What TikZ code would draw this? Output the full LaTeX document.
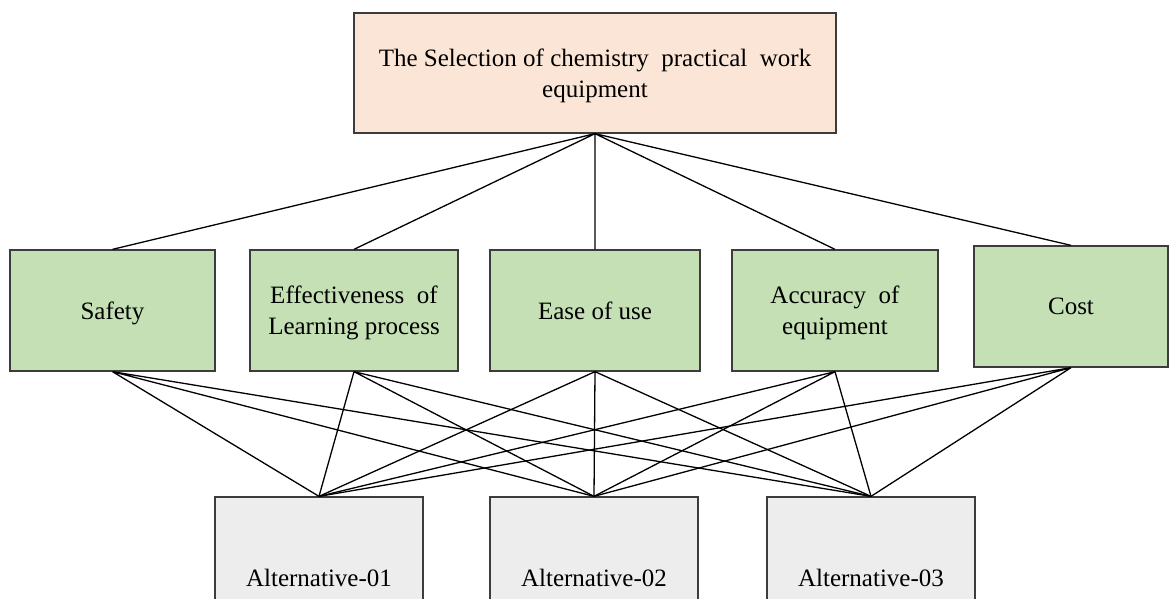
\documentclass[tikz,border=0pt]{standalone}
\usepackage{fontspec}
\setmainfont{Liberation Serif}
\definecolor{goalpeach}{RGB}{251, 229, 214}
\definecolor{critgreen}{RGB}{197, 224, 180}
\definecolor{altgrey}{RGB}{237, 237, 237}
\definecolor{edgegrey}{RGB}{60, 60, 60}
\usepackage{tikz}
\usetikzlibrary{positioning}

\begin{document}
\begin{tikzpicture}[x=1pt, y=-1pt,
    boxbase/.style={draw=edgegrey, line width=1.3pt, align=center, inner sep=4pt,
      text depth=0pt, font={\fontsize{25}{31}\selectfont}},
    goalbox/.style={boxbase, fill=goalpeach, minimum width=482pt, minimum height=120pt},
    critbox/.style={boxbase, fill=critgreen, minimum height=121pt},
    altbox/.style={boxbase, fill=altgrey, minimum width=208pt, minimum height=162pt},
    link/.style={draw=black, line width=1.3pt}]
  \clip (0,0) rectangle (1170,598);

  % Goal
  \node[goalbox] (goal) at (595, 73) {The Selection of chemistry\ \ practical\ \ work\\equipment};

  % Criteria
  \node[critbox, minimum width=205pt] (safety) at (112.5, 310.5) {Safety};
  \node[critbox, minimum width=208pt] (effect) at (354, 310.5) {Effectiveness\ \ of\\Learning process};
  \node[critbox, minimum width=210pt] (ease) at (595, 310.5) {Ease of use};
  \node[critbox, minimum width=206pt] (accuracy) at (835, 310.5) {Accuracy\ \ of\\equipment};
  \node[critbox, minimum width=194pt] (cost) at (1071, 306.5) {Cost};

  % Alternatives
  \node[altbox] (alt1) at (319, 578) {Alternative-01};
  \node[altbox] (alt2) at (594, 578) {Alternative-02};
  \node[altbox] (alt3) at (871, 578) {Alternative-03};

  % Goal to criteria
  \draw[link] (goal.south) -- (safety.north) (goal.south) -- (effect.north)
    (goal.south) -- (ease.north) (goal.south) -- (accuracy.north)
    (goal.south) -- (cost.north);

  % Criteria to alternatives
  \draw[link] (safety.south) -- (alt1.north) (safety.south) -- (alt2.north) (safety.south) -- (alt3.north);
  \draw[link] (effect.south) -- (alt1.north) (effect.south) -- (alt2.north) (effect.south) -- (alt3.north);
  \draw[link] (ease.south) -- (alt1.north) (ease.south) -- (alt2.north) (ease.south) -- (alt3.north);
  \draw[link] (accuracy.south) -- (alt1.north) (accuracy.south) -- (alt2.north) (accuracy.south) -- (alt3.north);
  \draw[link] (cost.south) -- (alt1.north) (cost.south) -- (alt2.north) (cost.south) -- (alt3.north);
\end{tikzpicture}
\end{document}
